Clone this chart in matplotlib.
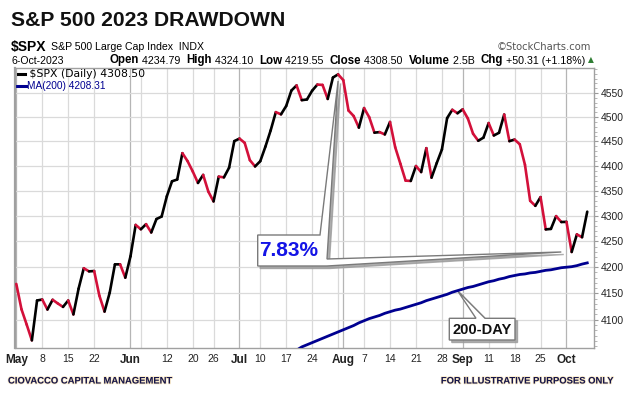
"""
S&P 500 2023 drawdown - StockCharts style colour-coded close line with 200-day MA
"""
import numpy as np
import pandas as pd
import matplotlib
matplotlib.use("Agg")
import matplotlib.pyplot as plt
from matplotlib.collections import LineCollection
from matplotlib.patches import Polygon
from matplotlib.ticker import FixedLocator, FuncFormatter, NullFormatter
import matplotlib.patheffects as pe

# --- data: daily closes May 1 - Oct 6 2023 ---
holidays = ["2023-05-29", "2023-06-19", "2023-07-04", "2023-09-04"]
dates = pd.bdate_range("2023-05-01", "2023-10-06", freq="C", holidays=holidays)

closes = [
    4167.87, 4119.58, 4090.75, 4061.22, 4136.25, 4138.12, 4119.17, 4137.64, 4130.62, 4124.08,
    4136.28, 4109.90, 4158.77, 4198.05, 4191.98, 4192.63, 4145.58, 4115.24, 4151.28, 4205.45,
    4205.52, 4179.83, 4221.02, 4282.37, 4273.79, 4283.85, 4267.52, 4293.93, 4298.86, 4338.93,
    4369.01, 4372.59, 4425.84, 4409.59, 4388.71, 4365.69, 4381.89, 4348.33, 4328.82, 4378.41,
    4376.86, 4396.44, 4450.38, 4455.59, 4446.82, 4411.59, 4398.95, 4409.53, 4439.26, 4472.16,
    4510.04, 4505.42, 4522.79, 4554.98, 4565.72, 4534.87, 4536.34, 4554.64, 4567.46, 4566.75,
    4537.41, 4582.23, 4588.96, 4576.73, 4513.39, 4501.89, 4478.03, 4518.44, 4499.38, 4467.71,
    4468.83, 4464.05, 4489.72, 4437.86, 4404.33, 4370.36, 4369.71, 4399.77, 4387.55, 4436.01,
    4376.31, 4405.71, 4433.31, 4497.63, 4514.87, 4507.66, 4515.77, 4496.83, 4465.48, 4451.14,
    4457.49, 4487.46, 4461.90, 4467.44, 4505.10, 4450.32, 4453.53, 4443.95, 4402.20, 4330.00,
    4320.06, 4337.44, 4273.53, 4274.51, 4299.70, 4288.05, 4288.39, 4229.45, 4263.75, 4258.19,
    4308.50,
]

# 200-day moving average, only the visible part (from Jul 17 on)
ma_start = "2023-07-17"
ma200 = [
    4030, 4036, 4043, 4049, 4053, 4057, 4061, 4065, 4069, 4073,
    4077, 4081, 4085, 4089, 4094, 4098, 4102, 4105, 4108, 4112,
    4115, 4118, 4120, 4123, 4126, 4129, 4132, 4136, 4139, 4142,
    4145, 4148, 4152, 4155, 4158, 4161, 4163, 4166, 4169, 4172,
    4174, 4177, 4179, 4182, 4184, 4186, 4187, 4189, 4190, 4192,
    4194, 4195, 4197, 4199, 4200, 4201, 4203, 4206, 4208.31,
]

tick_dates = ["2023-05-01", "2023-05-08", "2023-05-15", "2023-05-22", "2023-06-01",
              "2023-06-12", "2023-06-20", "2023-06-26", "2023-07-03", "2023-07-10",
              "2023-07-17", "2023-07-24", "2023-08-01", "2023-08-07", "2023-08-14",
              "2023-08-21", "2023-08-28", "2023-09-01", "2023-09-11", "2023-09-18",
              "2023-09-25", "2023-10-02"]
tick_labels = ["May", "8", "15", "22", "Jun", "12", "20", "26", "Jul", "10", "17", "24",
               "Aug", "7", "14", "21", "28", "Sep", "11", "18", "25", "Oct"]
month_labels = {"May", "Jun", "Jul", "Aug", "Sep", "Oct"}
extra_grid_dates = ["2023-06-05", "2023-07-31"]
y_ticks = [4100, 4150, 4200, 4250, 4300, 4350, 4400, 4450, 4500, 4550]

RED = "#d3103a"
NAVY = "#000090"
W, H = 640, 397

fig = plt.figure(figsize=(W / 100, H / 100), dpi=100)
fig.patch.set_facecolor("white")

# axes placed to match the pixel frame of the reference
L, R, T, B = 15, 594, 67.7, 348
ax = fig.add_axes([L / W, 1 - B / H, (R - L) / W, (B - T) / H])

x = np.arange(len(closes))
c = np.array(closes)
pos = lambda d: dates.get_loc(pd.Timestamp(d))

# colour coded close line: red when down, black when up
pts = np.column_stack([x, c])
segs = np.stack([pts[:-1], pts[1:]], axis=1)
cols = [RED if c[i + 1] < c[i] else "black" for i in range(len(c) - 1)]
lc = LineCollection(segs, colors=cols, linewidths=1.9, capstyle="round",
                    joinstyle="round", zorder=5)
ax.add_collection(lc)

ma_x = np.arange(pos(ma_start), pos(ma_start) + len(ma200))
ax.plot(ma_x, ma200, color=NAVY, lw=2.0, zorder=4)

ax.set_yscale("log")
ax.set_xlim(-0.25, 111.3)
ax.set_ylim(4047, 4603)

# grid
for d in tick_dates + extra_grid_dates:
    lab = tick_labels[tick_dates.index(d)] if d in tick_dates else ""
    ax.axvline(pos(d), color="#b5b5b5" if lab in month_labels else "#dadada",
               lw=0.9, zorder=1)
for v in y_ticks:
    ax.axhline(v, color="#dadada", lw=0.9, zorder=1)

ax.set_xticks([pos(d) for d in tick_dates])
ax.set_xticklabels(tick_labels, fontsize=7.5, family="Liberation Sans")
for t in ax.get_xticklabels():
    if t.get_text() in month_labels:
        t.set_fontweight("bold")
        t.set_fontsize(8.5)
ax.tick_params(axis="x", length=0, pad=4, colors="#222222")

ax.yaxis.tick_right()
ax.yaxis.set_major_locator(FixedLocator(y_ticks))
ax.yaxis.set_major_formatter(FuncFormatter(lambda v, p: f"{v:.0f}"))
ax.yaxis.set_minor_locator(FixedLocator(np.arange(4050, 4601, 10)))
ax.yaxis.set_minor_formatter(NullFormatter())
ax.tick_params(axis="y", which="major", length=3, width=0.8, color="#999999",
               pad=2, labelsize=7.5, labelcolor="#222222")
ax.tick_params(axis="y", which="minor", length=2, width=0.6, color="#aaaaaa")
for t in ax.get_yticklabels():
    t.set_family("Liberation Sans")
for s in ax.spines.values():
    s.set_color("#a0a0a0")
    s.set_linewidth(1.0)
ax.spines["left"].set_linewidth(1.6)

# legend inside the frame
ax.plot([0.005, 0.017], [0.977, 0.977], transform=ax.transAxes, color="black", lw=2.2)
ax.text(0.0185, 0.977, " $SPX (Daily) 4308.50", transform=ax.transAxes, fontsize=7.8,
        va="center", family="DejaVu Sans", color="black")
ax.plot([0.003, 0.019], [0.936, 0.936], transform=ax.transAxes, color=NAVY, lw=2.2)
ax.text(0.020, 0.936, "MA(200) 4208.31", transform=ax.transAxes, fontsize=7.3,
        va="center", family="Liberation Sans", color=NAVY)

# --- callouts (shapes in reference pixels, apex on data points) ---
def px2ax(px, py):
    return ((px - L) / (R - L), (B - py) / (B - T))

def data2ax(xd, yd):
    return tuple(ax.transAxes.inverted().transform(ax.transData.transform((xd, yd))))

def callout(verts, shadow=2.5):
    sh = [(vx + shadow / (R - L), vy - shadow / (B - T)) for vx, vy in verts]
    ax.add_patch(Polygon(sh, closed=True, transform=ax.transAxes, fc="#9a9a9a",
                         ec="#9a9a9a", lw=1, zorder=2.5, alpha=0.8))
    ax.add_patch(Polygon(verts, closed=True, transform=ax.transAxes, fc="white",
                         ec="#7a7a7a", lw=1, zorder=3))

i_peak = int(np.argmax(c))
i_low = i_peak + int(np.argmin(c[i_peak:]))
drawdown = (c[i_peak] - c[i_low]) / c[i_peak] * 100

callout([px2ax(257.7, 235), px2ax(320, 235), data2ax(i_peak, c[i_peak] * 0.997),
         px2ax(327, 259), data2ax(i_low - 2, c[i_low]), px2ax(327, 266),
         px2ax(257.7, 266)])
ax.text(*px2ax(289, 251), f"{drawdown:.2f}%", transform=ax.transAxes, ha="center",
        va="center", fontsize=15, fontweight="bold", color="#1414e6",
        family="Liberation Sans", zorder=6)

i_ma = pos("2023-09-01") - 1
callout([px2ax(449.3, 318.3), px2ax(476, 318.3),
         data2ax(i_ma, ma200[i_ma - ma_x[0]]), px2ax(485, 318.3),
         px2ax(515, 318.3), px2ax(515, 340), px2ax(449.3, 340)])
ax.text(*px2ax(482, 329.5), "200-DAY", transform=ax.transAxes, ha="center",
        va="center", fontsize=10.5, fontweight="bold", color="#111111",
        family="Liberation Sans", zorder=6)

# --- header ---
def ftxt(px, py, s, **kw):
    return fig.text(px / W, 1 - py / H, s, **kw)

ftxt(11, 20, "S&P 500 2023 DRAWDOWN", fontsize=15.2, fontweight="bold",
     family="Liberation Sans", va="center", color="#111111")
ftxt(11, 47, "$SPX", fontsize=10, fontweight="bold", family="Liberation Sans",
     va="center")
ftxt(51, 47.5, "S&P 500 Large Cap Index  INDX", fontsize=7.6, family="Liberation Sans",
     va="center")
ftxt(591, 47.5, "\u00a9StockCharts.com", fontsize=7.2, family="DejaVu Sans", va="center",
     ha="right", color="#555555")
ftxt(12, 60.5, "6-Oct-2023", fontsize=7.6, family="Liberation Sans", va="center")

pieces = [("Open", True), (" 4234.79  ", False), ("High", True), (" 4324.10  ", False),
          ("Low", True), (" 4219.55  ", False), ("Close", True), (" 4308.50  ", False),
          ("Volume", True), (" 2.5B  ", False), ("Chg", True), (" +50.31 (+1.18%)", False)]
fig.canvas.draw()
rend = fig.canvas.get_renderer()
xr = 585
for s, bold in reversed(pieces):
    t = ftxt(xr, 60.5, s, fontsize=8.3 if bold else 7.7, family="Liberation Sans",
             fontweight="bold" if bold else "normal", va="center", ha="right")
    xr -= t.get_window_extent(rend).width
ftxt(591, 60, "\u25b2", fontsize=5.5, color="#2e7d32", va="center", ha="center",
     family="DejaVu Sans")

# --- footer ---
halo = [pe.withStroke(linewidth=1.2, foreground="#f3c76a", alpha=0.35)]
ftxt(8, 381, "CIOVACCO CAPITAL MANAGEMENT", fontsize=6.8, fontweight="bold",
     family="Liberation Sans", color="#15154a", va="center", path_effects=halo)
ftxt(615, 381, "FOR ILLUSTRATIVE PURPOSES ONLY", fontsize=6.8, fontweight="bold",
     family="Liberation Sans", color="#15154a", va="center", ha="right",
     path_effects=halo)

fig.savefig("out.png", dpi=100)
